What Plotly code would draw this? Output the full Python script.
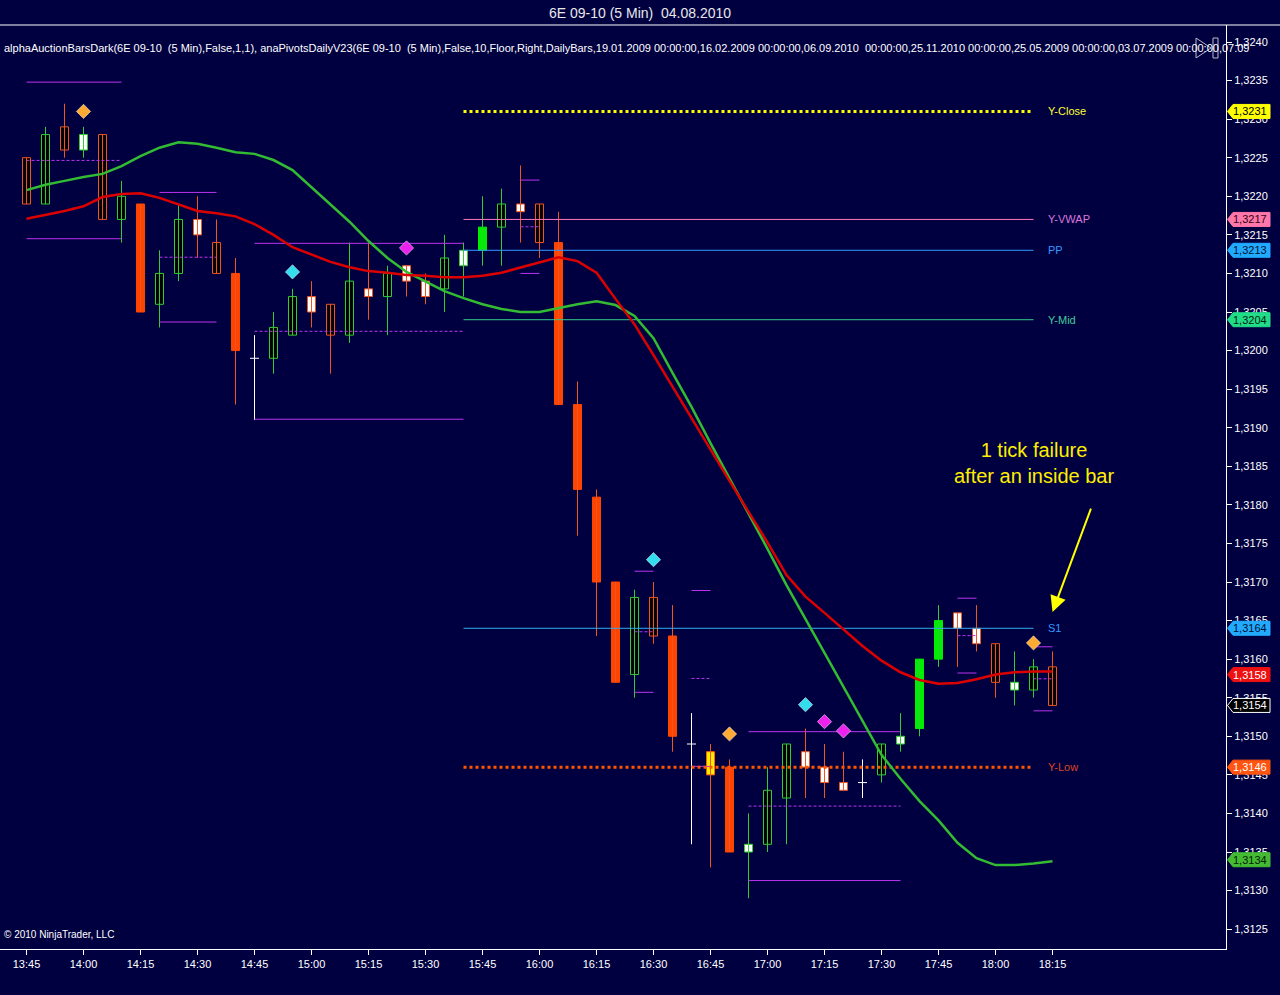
import pandas as pd
import plotly.graph_objects as go

BG = "#000040"

times = pd.date_range("2010-08-04 13:45", periods=55, freq="5min")

opens = [1.3225, 1.3219, 1.3229, 1.3226, 1.3228, 1.3217, 1.3219, 1.3206, 1.3210, 1.3217,
         1.3214, 1.3210, 1.3199, 1.3199, 1.3202, 1.3207, 1.3206, 1.3202, 1.3208, 1.3207,
         1.3211, 1.3209, 1.3208, 1.3211, 1.3213, 1.3216, 1.3219, 1.3219, 1.3214, 1.3193,
         1.3181, 1.3170, 1.3158, 1.3168, 1.3163, 1.3149, 1.3148, 1.3146, 1.3135, 1.3136,
         1.3142, 1.3148, 1.3146, 1.3144, 1.3144, 1.3145, 1.3149, 1.3151, 1.3160, 1.3166,
         1.3164, 1.3162, 1.3156, 1.3156, 1.3159]
highs = [1.3225, 1.3229, 1.3232, 1.3229, 1.3228, 1.3222, 1.3219, 1.3213, 1.3219, 1.3220,
         1.3217, 1.3212, 1.3202, 1.3205, 1.3208, 1.3209, 1.3206, 1.3214, 1.3214, 1.3211,
         1.3211, 1.3210, 1.3215, 1.3214, 1.3220, 1.3221, 1.3224, 1.3219, 1.3218, 1.3196,
         1.3182, 1.3170, 1.3169, 1.3170, 1.3167, 1.3153, 1.3149, 1.3147, 1.3140, 1.3146,
         1.3149, 1.3151, 1.3149, 1.3148, 1.3147, 1.3149, 1.3153, 1.3160, 1.3167, 1.3166,
         1.3167, 1.3162, 1.3161, 1.3160, 1.3161]
lows = [1.3219, 1.3219, 1.3225, 1.3225, 1.3217, 1.3214, 1.3205, 1.3203, 1.3209, 1.3212,
        1.3210, 1.3193, 1.3191, 1.3197, 1.3202, 1.3203, 1.3197, 1.3201, 1.3204, 1.3202,
        1.3207, 1.3206, 1.3205, 1.3207, 1.3211, 1.3211, 1.3214, 1.3212, 1.3193, 1.3176,
        1.3163, 1.3157, 1.3155, 1.3162, 1.3148, 1.3136, 1.3133, 1.3135, 1.3129, 1.3135,
        1.3136, 1.3142, 1.3142, 1.3143, 1.3142, 1.3144, 1.3148, 1.3150, 1.3159, 1.3159,
        1.3161, 1.3155, 1.3154, 1.3155, 1.3154]
closes = [1.3219, 1.3228, 1.3226, 1.3228, 1.3217, 1.3220, 1.3205, 1.3210, 1.3217, 1.3215,
          1.3210, 1.3200, 1.3199, 1.3203, 1.3207, 1.3205, 1.3202, 1.3209, 1.3207, 1.3210,
          1.3209, 1.3207, 1.3212, 1.3213, 1.3216, 1.3219, 1.3218, 1.3214, 1.3193, 1.3182,
          1.3170, 1.3157, 1.3168, 1.3163, 1.3150, 1.3149, 1.3145, 1.3135, 1.3136, 1.3143,
          1.3149, 1.3146, 1.3144, 1.3143, 1.3144, 1.3149, 1.3150, 1.3160, 1.3165, 1.3164,
          1.3162, 1.3157, 1.3157, 1.3159, 1.3154]
# bar paint: gh/oh hollow, gw/ow white body, gs/os solid, ys yellow, x doji
styles = ["oh", "gh", "oh", "gw", "oh", "gh", "os", "gh", "gh", "ow",
          "oh", "os", "x", "gh", "gh", "ow", "oh", "gh", "ow", "gh",
          "ow", "ow", "gh", "gw", "gs", "gh", "ow", "oh", "os", "os",
          "os", "os", "gh", "oh", "os", "x", "ys", "os", "gw", "gh",
          "gh", "ow", "ow", "ow", "x", "gh", "gw", "gs", "gs", "ow",
          "ow", "oh", "gw", "gh", "oh"]

ma_green = [1.32208, 1.32215, 1.32220, 1.32225, 1.32229, 1.32239, 1.32252, 1.32263, 1.32270, 1.32268,
            1.32263, 1.32257, 1.32255, 1.32247, 1.32234, 1.32212, 1.32189, 1.32167, 1.32142, 1.32120,
            1.32102, 1.32089, 1.32077, 1.32068, 1.32060, 1.32054, 1.32050, 1.32050, 1.32055, 1.32060,
            1.32064, 1.32059, 1.32045, 1.32016, 1.31971, 1.31927, 1.31880, 1.31835, 1.31788, 1.31743,
            1.31696, 1.31651, 1.31608, 1.31564, 1.31519, 1.31476, 1.31445, 1.31416, 1.31391, 1.31362,
            1.31342, 1.31333, 1.31333, 1.31335, 1.31338]
ma_red = [1.32171, 1.32176, 1.32181, 1.32187, 1.32199, 1.32203, 1.32204, 1.32198, 1.32190, 1.32181,
          1.32178, 1.32174, 1.32164, 1.32150, 1.32134, 1.32125, 1.32115, 1.32108, 1.32103, 1.32101,
          1.32098, 1.32097, 1.32095, 1.32095, 1.32097, 1.32101, 1.32108, 1.32115, 1.32121, 1.32116,
          1.32101, 1.32067, 1.32034, 1.31994, 1.31953, 1.31913, 1.31872, 1.31831, 1.31791, 1.31751,
          1.31709, 1.31681, 1.31660, 1.31639, 1.31617, 1.31598, 1.31583, 1.31573, 1.31568, 1.31569,
          1.31574, 1.31580, 1.31583, 1.31584, 1.31584]

level_names = ["Y-Close", "Y-VWAP", "PP", "Y-Mid", "S1", "Y-Low"]
level_values = [1.3231, 1.3217, 1.3213, 1.3204, 1.3164, 1.3146]
level_first, level_last = 23, 53

signal_bars = [3, 14, 20, 33, 37, 41, 42, 43, 53]
signal_prices = [1.32310, 1.32102, 1.32133, 1.31729, 1.31503, 1.31541, 1.31519, 1.31507, 1.31621]
signal_kinds = ["orange", "cyan", "magenta", "cyan", "orange", "cyan", "magenta", "magenta", "orange"]

period_start = [0, 7, 12, 26, 32, 35, 38, 49, 53]
period_end = [5, 10, 23, 27, 33, 36, 46, 50, 54]
period_high = [1.32348, 1.32205, 1.32139, 1.32221, 1.31714, 1.31689, 1.31506, 1.31679, 1.31616]
period_low = [1.32145, 1.32037, 1.31911, 1.32100, 1.31557, 1.31461, 1.31313, 1.31582, 1.31533]

note_text = "1 tick failure<br>after an inside bar"
note_price = 1.31854
arrow_price = 1.31661

# pixel scale of the reference: 19 px per 5 min bar, 77.143 px per 0.001
MS_PER_PX = 5 * 60 * 1000 / 19
PRICE_PER_PX = 0.001 / 77.143
PLOT_W, PLOT_H = 1226, 924

STYLE = {
    "gh": ("#000000", "#33cc33", "#33cc33"),
    "oh": ("#000000", "#ee5522", "#ee5522"),
    "gw": ("#ffffff", "#33cc33", "#33cc33"),
    "ow": ("#ffffff", "#ee5522", "#ee5522"),
    "gs": ("#00ee00", "#00ee00", "#33cc33"),
    "os": ("#ff4400", "#ff4400", "#ee5522"),
    "ys": ("#ffee00", "#ff6600", "#ee5522"),
    "x": (None, None, "#ffffff"),
}
SIGNAL_COLORS = {"orange": "#ffaa33", "cyan": "#33ddee", "magenta": "#ee22ee"}
LEVEL_LINE = ["#ffff00", "#ff77bb", "#3399ff", "#33cc88", "#33aaee", "#ff5500"]
LEVEL_TEXT = ["#ffff33", "#dd77dd", "#3399ff", "#44cc99", "#3399ff", "#dd4422"]
LEVEL_TAG = [("#ffff00", "#000000"), ("#ff77aa", "#330011"), ("#22aaff", "#001133"),
             ("#22dd88", "#002211"), ("#22aaff", "#001133"), ("#ff5511", "#ffffff")]
PURPLE = "#bb33ee"

fig = go.Figure()

# wicks
wick_groups = {}
for i, s in enumerate(styles):
    col = STYLE[s][2]
    xs, ys = wick_groups.setdefault(col, ([], []))
    xs += [times[i], times[i], None]
    ys += [lows[i], highs[i], None]
for col, (xs, ys) in wick_groups.items():
    fig.add_trace(go.Scatter(x=xs, y=ys, mode="lines", line=dict(color=col, width=1),
                             hoverinfo="skip"))

# bodies
for s, (fill, outline, _) in STYLE.items():
    idx = [i for i, v in enumerate(styles) if v == s]
    if fill is None:
        xs, ys = [], []
        half = pd.Timedelta(milliseconds=4.5 * MS_PER_PX)
        for i in idx:
            xs += [times[i] - half, times[i] + half, None]
            ys += [closes[i], closes[i], None]
        fig.add_trace(go.Scatter(x=xs, y=ys, mode="lines", line=dict(color="#ffffff", width=1)))
        continue
    fig.add_trace(go.Bar(
        x=[times[i] for i in idx],
        y=[abs(closes[i] - opens[i]) for i in idx],
        base=[min(opens[i], closes[i]) for i in idx],
        width=8 * MS_PER_PX,
        marker=dict(color=fill, line=dict(color=outline, width=1)),
    ))

# half hour range lines
for a, b, hi, lo in zip(period_start, period_end, period_high, period_low):
    xx = [times[a], times[b]]
    fig.add_trace(go.Scatter(x=xx, y=[hi, hi], mode="lines", line=dict(color=PURPLE, width=1)))
    fig.add_trace(go.Scatter(x=xx, y=[lo, lo], mode="lines", line=dict(color=PURPLE, width=1)))
    mid = (hi + lo) / 2
    fig.add_trace(go.Scatter(x=xx, y=[mid, mid], mode="lines",
                             line=dict(color=PURPLE, width=1, dash="3px,2px")))

# daily pivots
for name, val, lc, tc in zip(level_names, level_values, LEVEL_LINE, LEVEL_TEXT):
    dotted = name in ("Y-Close", "Y-Low")
    fig.add_trace(go.Scatter(
        x=[times[level_first], times[level_last]], y=[val, val], mode="lines",
        line=dict(color=lc, width=3 if dotted else 1, dash="dot" if dotted else "solid"),
    ))
    fig.add_annotation(x=times[level_last], y=val, text=name, showarrow=False,
                       xanchor="left", xshift=12, font=dict(color=tc, size=11))

# moving averages
fig.add_trace(go.Scatter(x=times, y=ma_green, mode="lines", line=dict(color="#33bb33", width=2.5)))
fig.add_trace(go.Scatter(x=times, y=ma_red, mode="lines", line=dict(color="#dd0000", width=2.5)))

# signal diamonds
for k in SIGNAL_COLORS:
    idx = [j for j, v in enumerate(signal_kinds) if v == k]
    fig.add_trace(go.Scatter(
        x=[times[signal_bars[j]] for j in idx], y=[signal_prices[j] for j in idx],
        mode="markers",
        marker=dict(symbol="diamond", size=11, color=SIGNAL_COLORS[k],
                    line=dict(color="#ffffff", width=0.5)),
    ))

# price tags on the right axis
h = 7 * PRICE_PER_PX
tip, left, right = 1227.5 / PLOT_W, 1233 / PLOT_W, 1270 / PLOT_W
tags = [(v, bg, fg, bg) for v, (bg, fg) in zip(level_values, LEVEL_TAG)]
tags += [(round(ma_red[-1], 4), "#ee1111", "#ffffff", "#ee1111"),
         (closes[-1], "#000000", "#ffffff", "#ffffff"),
         (round(ma_green[-1], 4), "#44bb33", "#002200", "#44bb33")]
for v, bg, fg, border in tags:
    path = (f"M {tip},{v} L {left},{v + h} L {right},{v + h} "
            f"L {right},{v - h} L {left},{v - h} Z")
    fig.add_shape(type="path", path=path, xref="paper", yref="y", layer="above",
                  fillcolor=bg, line=dict(color=border, width=1))
    fig.add_annotation(x=(left + right) / 2 - 1 / PLOT_W, y=v, xref="paper", yref="y",
                       xanchor="center", yanchor="middle",
                       text=f"{v:.4f}".replace(".", ","), showarrow=False,
                       font=dict(color=fg, size=11, family="Liberation Sans, Arial"))

# comment and arrow
fig.add_annotation(x=times[53], y=note_price, text=note_text, showarrow=False,
                   font=dict(color="#ffee00", size=20, family="Liberation Sans, Arial"))
fig.add_annotation(x=times[-1], y=arrow_price, ax=39, ay=-105, text="", showarrow=True,
                   arrowcolor="#ffff00", arrowwidth=2, arrowhead=2, arrowsize=1.6)

# header and footer texts
indicator = ("alphaAuctionBarsDark(6E 09-10  (5 Min),False,1,1), anaPivotsDailyV23(6E 09-10  (5 Min),"
             "False,10,Floor,Right,DailyBars,19.01.2009 00:00:00,16.02.2009 00:00:00,06.09.2010  "
             "00:00:00,25.11.2010 00:00:00,25.05.2009 00:00:00,03.07.2009 00:00:00,07.09")
fig.add_annotation(x=2 / PLOT_W, y=(949 - 40) / PLOT_H, xref="paper", yref="paper",
                   text=indicator, showarrow=False, xanchor="left",
                   font=dict(color="#ffffff", size=11))
fig.add_annotation(x=2 / PLOT_W, y=(949 - 942) / PLOT_H, xref="paper", yref="paper",
                   text="© 2010 NinjaTrader, LLC", showarrow=False, xanchor="left",
                   font=dict(color="#ffffff", size=10))
fig.add_shape(type="line", xref="paper", yref="paper", x0=0, x1=1280 / PLOT_W, y0=1, y1=1,
              line=dict(color="#ffffff", width=1))
# small scroll icon top right
fig.add_shape(type="path", xref="paper", yref="paper", line=dict(color="#bbbbcc", width=1),
              path=f"M {1196 / PLOT_W},{(949 - 38) / PLOT_H} L {1196 / PLOT_W},{(949 - 58) / PLOT_H} "
                   f"L {1211 / PLOT_W},{(949 - 48) / PLOT_H} Z")
fig.add_shape(type="rect", xref="paper", yref="paper", line=dict(color="#bbbbcc", width=1),
              x0=1213 / PLOT_W, x1=1218 / PLOT_W, y0=(949 - 58) / PLOT_H, y1=(949 - 38) / PLOT_H)

x0 = times[0] - pd.Timedelta(milliseconds=26.5 * MS_PER_PX)
x1 = x0 + pd.Timedelta(milliseconds=PLOT_W * MS_PER_PX)
tick_times = list(times[::3])

fig.update_layout(
    width=1280, height=995,
    margin=dict(l=0, r=54, t=25, b=46),
    paper_bgcolor=BG, plot_bgcolor=BG,
    showlegend=False, barmode="overlay",
    separators=",.",
    font=dict(family="Liberation Sans, Arial", color="#ffffff", size=11),
    title=dict(text="6E 09-10 (5 Min)  04.08.2010", x=0.5, xref="container",
               y=1 - 13 / 995, yref="container", yanchor="middle",
               font=dict(size=14, color="#e8e8e8")),
    xaxis=dict(type="date", range=[x0, x1], tickvals=tick_times,
               ticktext=[t.strftime("%H:%M") for t in tick_times],
               ticks="outside", ticklen=5, tickcolor="#ffffff", showline=True,
               linecolor="#ffffff", showgrid=False, zeroline=False,
               tickfont=dict(color="#ffffff", size=11)),
    yaxis=dict(side="right", range=[1.3240 - 907 * PRICE_PER_PX, 1.3240 + 17 * PRICE_PER_PX],
               tick0=1.3125, dtick=0.0005, tickformat=".4f", ticks="outside", ticklen=5,
               tickcolor="#ffffff", showline=True, linecolor="#ffffff", showgrid=False,
               zeroline=False, tickfont=dict(color="#ffffff", size=11)),
)

fig.write_html("out.html", config={"displayModeBar": False},
               post_script="document.body.style.margin='0';")
